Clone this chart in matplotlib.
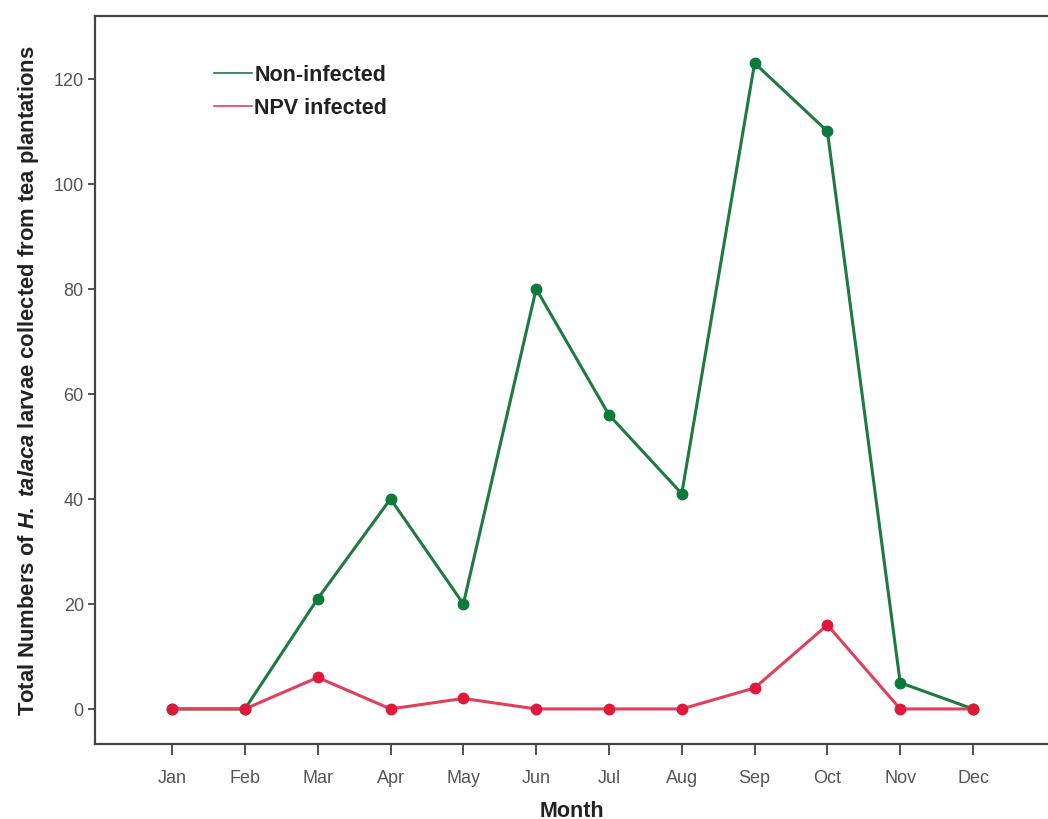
import matplotlib
matplotlib.use('Agg')
import matplotlib.pyplot as plt

plt.rcParams['font.family'] = ['Liberation Sans', 'DejaVu Sans']
plt.rcParams['mathtext.fontset'] = 'custom'
plt.rcParams['mathtext.it'] = 'Liberation Sans:italic:bold'
plt.rcParams['mathtext.rm'] = 'Liberation Sans:bold'
plt.rcParams['mathtext.bf'] = 'Liberation Sans:bold'

months = ['Jan', 'Feb', 'Mar', 'Apr', 'May', 'Jun', 'Jul', 'Aug', 'Sep', 'Oct', 'Nov', 'Dec']
non_infected = [0, 0, 21, 40, 20, 80, 56, 41, 123, 110, 5, 0]
npv_infected = [0, 0, 6, 0, 2, 0, 0, 0, 4, 16, 0, 0]
y_ticks = [0, 20, 40, 60, 80, 100, 120]

fig = plt.figure(figsize=(10.48, 8.2), dpi=100)
ax = fig.add_axes([0.0906, 0.0915, 0.9094, 0.888])

x = list(range(len(months)))
ax.plot(x, non_infected, color='#1e7a3e', lw=2.2, marker='o', ms=7.5,
        mfc='#0b7a3a', mec='#0b7a3a', label='Non-infected', zorder=3)
ax.plot(x, npv_infected, color='#e0405a', lw=2.2, marker='o', ms=7.5,
        mfc='#e0183c', mec='#e0183c', label='NPV infected', zorder=3)

ax.set_xlim(-1.06, 12.03)
ax.set_ylim(-6.67, 132)
ax.set_xticks(x)
ax.set_xticklabels(months)
ax.set_yticks(y_ticks)

for s in ['left', 'bottom', 'top']:
    ax.spines[s].set_color('#444444')
    ax.spines[s].set_linewidth(1.6)
ax.spines['right'].set_visible(False)

ax.tick_params(axis='both', colors='#444444', labelcolor='#555555',
               labelsize=13, width=1.3, direction='out')
ax.tick_params(axis='x', length=8, pad=10)
ax.tick_params(axis='y', length=5, pad=3)

ax.set_xlabel('Month', fontsize=15.5, fontweight='bold', color='#222222', labelpad=10)
ax.set_ylabel('Total Numbers of $\\mathit{H.\\ talaca}$ larvae collected from tea plantations',
              fontsize=15.8, fontweight='bold', color='#222222', labelpad=9)

leg = ax.legend(loc='upper left', bbox_to_anchor=(0.105, 0.96), frameon=False,
                handlelength=1.75, handletextpad=0.1, labelspacing=0.55,
                prop={'weight': 'bold', 'size': 15.5})
for h in leg.get_lines():
    h.set_marker('')
    h.set_linewidth(1.2)
for t in leg.get_texts():
    t.set_color('#222222')

fig.savefig('out.png', dpi=100)
